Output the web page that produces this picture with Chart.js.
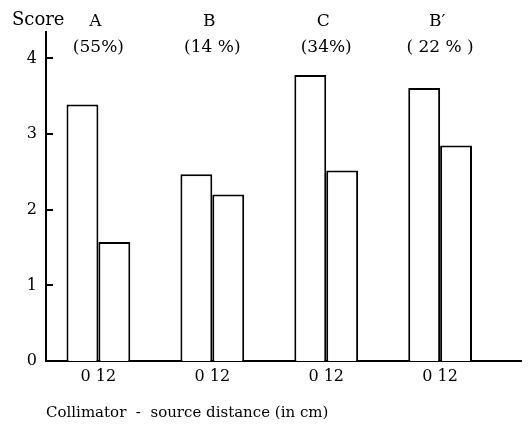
<!DOCTYPE html>
<html><head><meta charset="utf-8">
<script src="https://cdn.jsdelivr.net/npm/chart.js@4.4.1/dist/chart.umd.min.js"></script>
<style>html,body{margin:0;padding:0;background:#fff}</style>
</head><body>
<canvas id="c" width="529" height="428"></canvas>
<script>
// ---- data ----
const groups = ['A', 'B', 'C', 'B\u2032'];
const shares = ['(55%)', '(14 %)', '(34%)', '( 22 % )'];
const distances = ['0', '12'];            // collimator-source distance, cm
const scoreAt0 = [3.39, 2.47, 3.78, 3.61];
const scoreAt12 = [1.575, 2.20, 2.52, 2.85];
const yTicks = [0, 1, 2, 3, 4];

const FONT = "'DejaVu Serif', 'Liberation Serif', serif";
const INK = '#000';

const toPoints = arr => arr.map((v, i) => ({ x: i, y: v }));

const decor = {
  id: 'decor',
  afterDraw(chart) {
    const { ctx, scales: { x, y }, chartArea } = chart;
    ctx.save();
    ctx.strokeStyle = INK; ctx.lineWidth = 2;
    yTicks.forEach(v => {
      if (v === 0) return;
      const py = Math.round(y.getPixelForValue(v));
      ctx.beginPath(); ctx.moveTo(chartArea.left, py); ctx.lineTo(chartArea.left + 7, py); ctx.stroke();
    });
    ctx.fillStyle = INK;
    ctx.textBaseline = 'middle';
    ctx.textAlign = 'left';
    ctx.font = '18px ' + FONT;
    ctx.fillText('Score', 12, 20);
    ctx.textAlign = 'center';
    groups.forEach((g, i) => {
      const px = x.getPixelForValue(i);
      ctx.font = '17px ' + FONT;
      ctx.fillText(g, px - 3, 22);
      ctx.font = '17px ' + FONT;
      ctx.fillText(shares[i], px, 48);
    });
    ctx.restore();
  }
};

new Chart(document.getElementById('c'), {
  type: 'bar',
  data: {
    datasets: [
      { label: distances[0] + ' cm', data: toPoints(scoreAt0), backgroundColor: '#fff', borderColor: INK, borderWidth: 2, categoryPercentage: 0.56, barPercentage: 1 },
      { label: distances[1] + ' cm', data: toPoints(scoreAt12), backgroundColor: '#fff', borderColor: INK, borderWidth: 2, categoryPercentage: 0.56, barPercentage: 1 }
    ]
  },
  options: {
    responsive: false,
    animation: false,
    devicePixelRatio: 1,
    layout: { padding: { top: 32, right: 8, left: 0, bottom: 0 } },
    plugins: { legend: { display: false }, tooltip: { enabled: false } },
    scales: {
      x: {
        type: 'linear', min: -0.46, max: 3.71, offset: false,
        grid: { display: false, drawTicks: false, offset: false },
        border: { display: true, color: INK, width: 2 },
        ticks: {
          stepSize: 1, includeBounds: false, autoSkip: false, maxRotation: 0, padding: 6,
          color: INK, font: { family: FONT, size: 16 },
          callback: v => Number.isInteger(v) ? distances.join(' ') : ''
        },
        title: {
          display: true, text: 'Collimator  -  source distance (in cm)', align: 'start',
          color: INK, font: { family: FONT, size: 15 }, padding: { top: 0, bottom: 6 }
        },
        afterFit(s) { s.height = 67; }
      },
      y: {
        min: 0, max: 4.35,
        grid: { display: false, drawTicks: false },
        border: { display: true, color: INK, width: 2 },
        ticks: { stepSize: 1, includeBounds: false, padding: 9, color: INK, font: { family: FONT, size: 16 } },
        afterFit(s) { s.width = 46; }
      }
    }
  },
  plugins: [decor]
});
</script>
</body></html>
